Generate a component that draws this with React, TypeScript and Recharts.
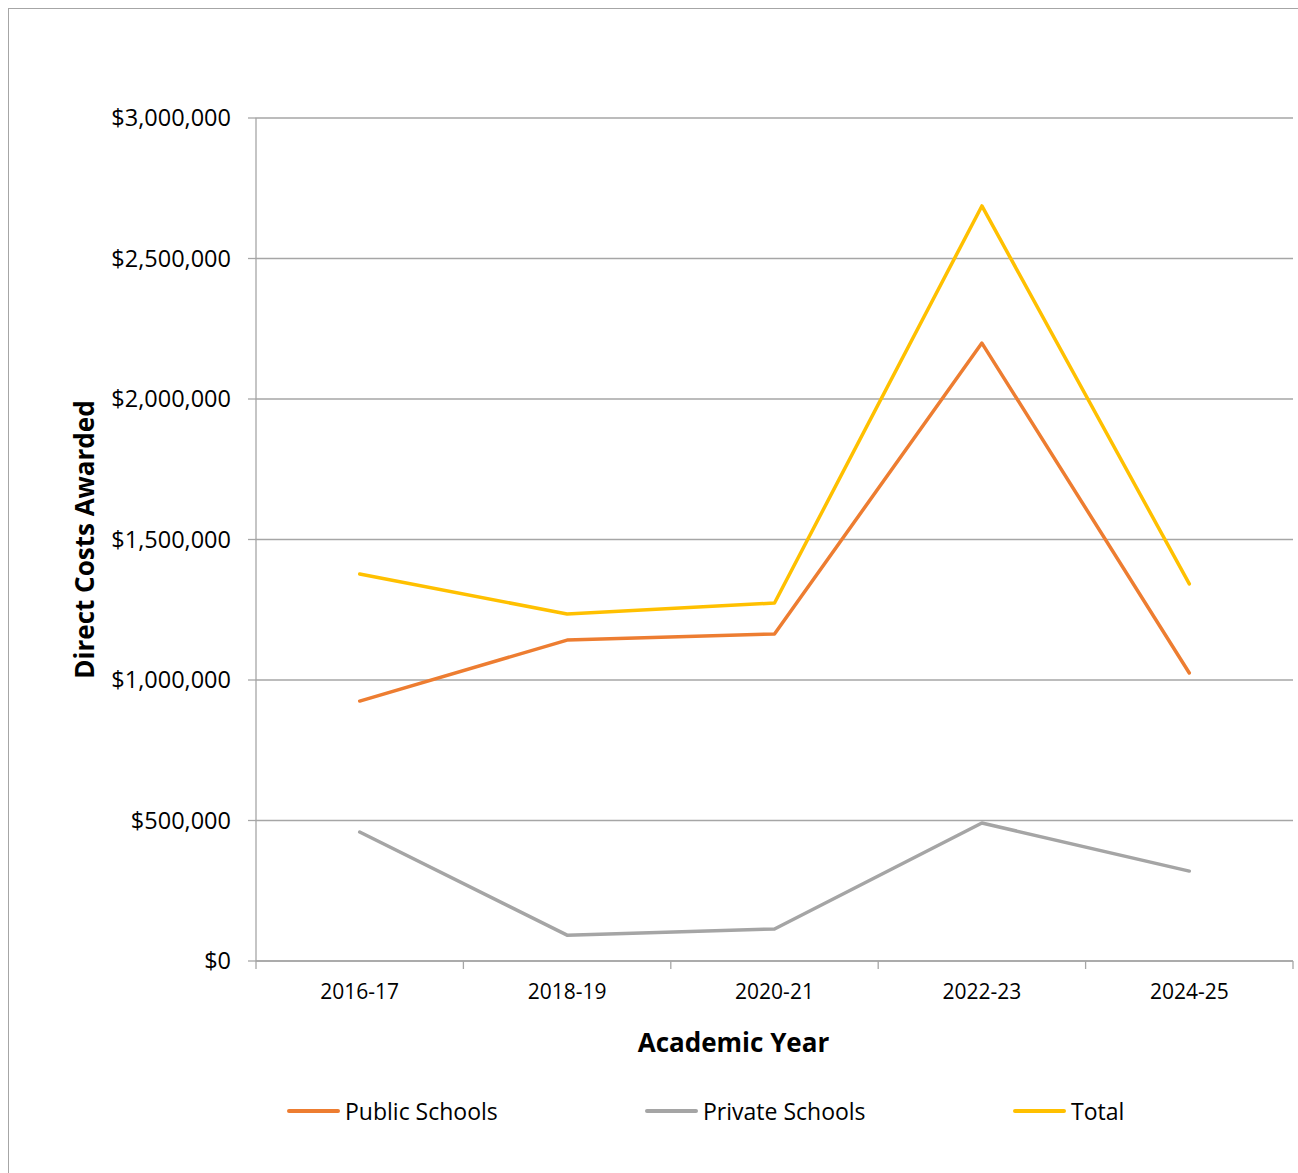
import React from 'react';
import { LineChart, Line, XAxis, YAxis, CartesianGrid, Legend } from 'recharts';

const years = ['2016-17', '2018-19', '2020-21', '2022-23', '2024-25'];
const publicSchools = [925000, 1142000, 1164000, 2199000, 1025000];
const privateSchools = [459000, 92000, 114000, 491000, 320000];
const totalValues = [1377000, 1235000, 1274000, 2687000, 1342000];
const yTicks = [0, 500000, 1000000, 1500000, 2000000, 2500000, 3000000];

const seriesInfo = [
  { key: 'public', name: 'Public Schools', color: '#ED7D31' },
  { key: 'private', name: 'Private Schools', color: '#A5A5A5' },
  { key: 'total', name: 'Total', color: '#FFC000' },
];

const data = years.map((y, i) => ({
  year: y,
  public: publicSchools[i],
  private: privateSchools[i],
  total: totalValues[i],
}));

const FONT = '"Open Sans", sans-serif';
const GRID = '#A6A6A6';
const W = 1289;
const H = 1164;
const M = { top: 109, right: 5, left: 0, bottom: 42 };
const YAXIS_W = 247;
const PLOT_W = W - M.left - M.right - YAXIS_W;
const HALF_BAND = PLOT_W / years.length / 2;
const legendLeft = [278, 636, 1004];

const fmt = (v: number) => '$' + v.toLocaleString('en-US');

const XTick = (props: any) => {
  const { x, y, payload, index } = props;
  const y0 = y - 22;
  return (
    <g>
      <line x1={x - HALF_BAND} x2={x - HALF_BAND} y1={y0} y2={y0 + 8} stroke={GRID} strokeWidth={1.3} />
      {index === years.length - 1 && (
        <line x1={x + HALF_BAND} x2={x + HALF_BAND} y1={y0} y2={y0 + 8} stroke={GRID} strokeWidth={1.3} />
      )}
      <text x={x} y={y + 16} textAnchor="middle" fill="#000" fontSize={21} fontFamily={FONT}>
        {payload.value}
      </text>
    </g>
  );
};

const XLabel = (props: any) => {
  const { viewBox } = props;
  return (
    <text
      x={viewBox.x + viewBox.width / 2 - 41}
      y={viewBox.y + 91}
      textAnchor="middle"
      fill="#000"
      fontSize={26}
      fontWeight="bold"
      fontFamily={FONT}
    >
      Academic Year
    </text>
  );
};

const YLabel = (props: any) => {
  const { viewBox } = props;
  const cx = 85;
  const cy = viewBox.y + viewBox.height / 2;
  return (
    <text
      x={cx}
      y={cy}
      transform={`rotate(-90, ${cx}, ${cy})`}
      textAnchor="middle"
      fill="#000"
      fontSize={26}
      fontWeight="bold"
      fontFamily={FONT}
    >
      Direct Costs Awarded
    </text>
  );
};

const LegendContent = () => (
  <div style={{ position: 'relative', height: 40, width: W, fontFamily: FONT, fontSize: 23, color: '#000' }}>
    {seriesInfo.map((s, i) => (
      <div
        key={s.key}
        style={{ position: 'absolute', left: legendLeft[i], top: 0, height: 40, display: 'flex', alignItems: 'center', whiteSpace: 'nowrap' }}
      >
        <span style={{ display: 'inline-block', width: 53, height: 4, borderRadius: 2, background: s.color, marginRight: 5 }} />
        <span>{s.name}</span>
      </div>
    ))}
  </div>
);

export default function App() {
  return (
    <div
      style={{
        position: 'absolute',
        left: 8,
        top: 8,
        width: W + 1,
        height: H + 1,
        boxSizing: 'border-box',
        borderLeft: `1px solid ${GRID}`,
        borderTop: `1px solid ${GRID}`,
        background: '#fff',
      }}
    >
      <LineChart width={W} height={H} data={data} margin={M} style={{ fontFamily: FONT }}>
        <CartesianGrid vertical={false} stroke={GRID} strokeWidth={1.3} />
        <XAxis
          dataKey="year"
          height={130}
          padding={{ left: HALF_BAND, right: HALF_BAND }}
          axisLine={{ stroke: GRID, strokeWidth: 1.3 }}
          tickLine={false}
          tickSize={8}
          tickMargin={14}
          tick={<XTick />}
          interval={0}
          label={<XLabel />}
        />
        <YAxis
          width={YAXIS_W}
          domain={[0, 3000000]}
          ticks={yTicks}
          tickFormatter={fmt}
          axisLine={{ stroke: GRID, strokeWidth: 1.3 }}
          tickLine={{ stroke: GRID, strokeWidth: 1.3 }}
          tickSize={8}
          tickMargin={17}
          tick={{ fill: '#000', fontSize: 23.5, fontFamily: FONT }}
          label={<YLabel />}
        />
        <Legend verticalAlign="bottom" height={40} content={<LegendContent />} />
        {seriesInfo.map((s) => (
          <Line
            key={s.key}
            type="linear"
            dataKey={s.key}
            name={s.name}
            stroke={s.color}
            strokeWidth={3.5}
            strokeLinecap="round"
            strokeLinejoin="round"
            dot={false}
            activeDot={false}
            isAnimationActive={false}
          />
        ))}
      </LineChart>
    </div>
  );
}
